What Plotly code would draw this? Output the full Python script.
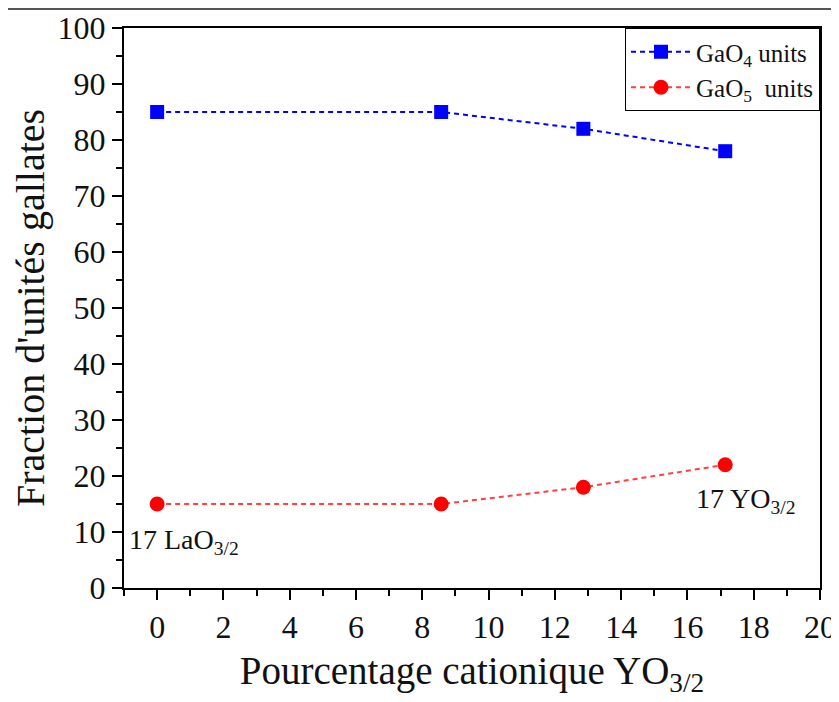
import plotly.graph_objects as go

# cation percentage of YO3/2
x_pct = [0, 8.57, 12.86, 17.14]
gao4 = [85, 85, 82, 78]
gao5 = [15, 15, 18, 22]

x_ticks = list(range(0, 21, 2))
y_ticks = list(range(0, 101, 10))

FONT = "Liberation Serif, Times New Roman, serif"

fig = go.Figure()
fig.add_trace(go.Scatter(
    x=x_pct, y=gao4, mode="lines+markers", name="GaO<sub>4</sub> units",
    line=dict(color="#0000ff", width=2, dash="5px,4px"),
    marker=dict(symbol="square", size=14, color="#0000ff"),
))
fig.add_trace(go.Scatter(
    x=x_pct, y=gao5, mode="lines+markers", name="GaO<sub>5</sub>  units",
    line=dict(color="#ff4040", width=2, dash="5px,4px"),
    marker=dict(symbol="circle", size=15, color="#ff0000"),
))

# labels of the two end members
fig.add_annotation(x=-0.9, y=8.3, text="17 LaO<sub>3/2</sub>", showarrow=False,
                   xanchor="left", yanchor="middle", font=dict(size=28, color="#111"))
fig.add_annotation(x=17.76, y=15.7, text="17 YO<sub>3/2</sub>", showarrow=False,
                   xanchor="center", yanchor="middle", font=dict(size=28, color="#111"))

# thin rule across the top of the page
fig.add_shape(type="line", xref="paper", yref="paper", x0=-0.2, x1=1.1,
              y0=1.034, y1=1.034, line=dict(color="#555", width=2))

axis_common = dict(
    showline=True, linecolor="black", linewidth=2, mirror=True,
    ticks="outside", ticklen=10, tickwidth=2, tickcolor="black",
    showgrid=False, zeroline=False, automargin=False,
    tickfont=dict(size=32, color="#111"),
)

fig.update_xaxes(
    range=[-1, 20], tickvals=x_ticks,
    minor=dict(ticks="outside", ticklen=6, tickwidth=2, tickcolor="black", dtick=1, tick0=1),
    title=dict(text="Pourcentage cationique YO<sub>3/2</sub>", font=dict(size=39, color="#111"), standoff=12),
    **axis_common,
)
fig.update_yaxes(
    range=[0, 100], tickvals=y_ticks,
    minor=dict(ticks="outside", ticklen=6, tickwidth=2, tickcolor="black", dtick=5, tick0=5),
    title=dict(text="Fraction d'unités gallates", font=dict(size=40, color="#111"), standoff=16),
    **axis_common,
)

# the page adds an 8px body margin, so the figure is shrunk to match
fig.update_layout(
    width=831, height=694,
    margin=dict(l=116, r=19, t=20, b=114),
    paper_bgcolor="white", plot_bgcolor="white",
    font=dict(family=FONT, color="#111"),
    showlegend=True,
    legend=dict(x=1, y=1, xanchor="right", yanchor="top",
                bordercolor="black", borderwidth=1, bgcolor="white",
                font=dict(size=25), itemwidth=60, tracegroupgap=0),
)

fig.write_html("out.html")
